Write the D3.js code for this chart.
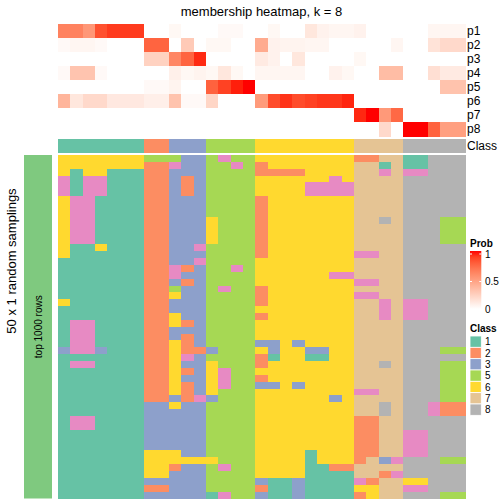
<!DOCTYPE html>
<html>
<head>
<meta charset="utf-8">
<script src="https://cdn.jsdelivr.net/npm/d3@7"></script>
<style>
  html, body { margin: 0; padding: 0; background: #fff; }
  svg { display: block; font-family: "Liberation Sans", Arial, Helvetica, sans-serif; }
</style>
</head>
<body>
<svg id="chart" width="504" height="504"></svg>
<script>
// ---------------- data ----------------
const title = "membership heatmap, k = 8";
const probRows = ["p1", "p2", "p3", "p4", "p5", "p6", "p7", "p8"];
// class of each of the 33 columns
const columnClass = [1,1,1,1,1,1,1, 2,2, 3,3,3, 5,5,5,5, 6,6,6,6,6,6,6,6, 7,7,7,7, 8,8,8,8,8];
// membership probabilities per class row (33 columns each)
const p1 = [0.64,0.64,0.54,0.84,0.91,0.91,0.91, 0,0, 0.04,0,0, 0,0.03,0.03,0, 0,0.04,0,0,0.13,0.07,0.05,0.05, 0.07,0,0,0, 0,0,0.05,0.05,0.05];
const p2 = [0.03,0.05,0.05,0.03,0,0,0, 0.77,0.77, 0,0.28,0, 0.04,0.04,0,0, 0.44,0.07,0.06,0.06,0.05,0.05,0,0, 0,0,0,0.05, 0,0,0.15,0.2,0.2];
const p3 = [0,0,0,0,0,0,0, 0.24,0.24, 0.62,0.77,0.95, 0,0,0,0, 0.11,0.07,0,0.13,0,0,0,0, 0.04,0,0,0, 0,0,0,0,0];
const p4 = [0.03,0.31,0.31,0.03,0,0,0, 0,0, 0.08,0.04,0.06, 0.04,0.13,0.04,0, 0.05,0.05,0.05,0.05,0,0,0.07,0.04, 0,0,0.35,0.35, 0,0,0.17,0.11,0.11];
const p5 = [0,0,0,0,0,0,0, 0.03,0.03, 0.06,0,0, 0.78,0.89,0.97,1, 0,0,0,0,0,0,0,0, 0,0,0,0, 0,0,0,0.32,0.32];
const p6 = [0.39,0.13,0.2,0.2,0.12,0.12,0.12, 0.085,0.085, 0.32,0.03,0.03, 0.22,0,0,0, 0.52,0.86,0.93,0.86,0.89,0.92,0.92,0.96, 0,0,0,0, 0,0,0,0,0];
const p7 = [0,0,0,0,0,0,0, 0,0, 0,0,0, 0,0,0,0, 0,0,0,0,0,0,0,0, 0.955,1,0.53,0.75, 0,0,0,0,0];
const p8 = [0,0,0,0,0,0,0, 0,0, 0,0,0, 0,0,0,0, 0,0,0,0,0,0,0,0, 0,0,0.2,0, 1,1,0.78,0.5,0.5];
// class assigned in each of 50 random samplings (rows) for the 33 columns
const samplings = [
  "6666666"+"55"+"533"+"5455"+"66666666"+"2277"+"11888",
  "6666666"+"22"+"433"+"5545"+"26666666"+"7717"+"11888",
  "6166111"+"22"+"333"+"5555"+"22226666"+"7747"+"44888",
  "4144111"+"22"+"323"+"5555"+"66666646"+"7777"+"88888",
  "4144111"+"22"+"323"+"5555"+"66664444"+"7777"+"88888",
  "4144111"+"22"+"323"+"5555"+"66664444"+"7777"+"88888",
  "6441111"+"22"+"333"+"5555"+"26666666"+"7777"+"88888",
  "6441111"+"22"+"333"+"5555"+"26666666"+"7777"+"88888",
  "6441111"+"22"+"333"+"5555"+"26666666"+"7777"+"88888",
  "6441111"+"22"+"333"+"6555"+"26666666"+"7787"+"88855",
  "6441111"+"22"+"333"+"6555"+"26666666"+"7777"+"88855",
  "6441111"+"22"+"333"+"6555"+"26666666"+"7777"+"88855",
  "6441111"+"22"+"333"+"6555"+"26666666"+"7777"+"88855",
  "6116111"+"22"+"334"+"5555"+"26666666"+"7777"+"88888",
  "6111111"+"22"+"333"+"5555"+"26666666"+"4477"+"88888",
  "1111111"+"22"+"334"+"5555"+"66666666"+"7777"+"88888",
  "1111111"+"22"+"423"+"5545"+"66666666"+"7777"+"88888",
  "1111111"+"22"+"433"+"5555"+"66666644"+"7777"+"88888",
  "1111111"+"22"+"323"+"5555"+"66666666"+"4477"+"88888",
  "1111111"+"22"+"533"+"5455"+"26666666"+"7777"+"88888",
  "1111111"+"22"+"633"+"5555"+"26666666"+"4477"+"88888",
  "6111111"+"22"+"333"+"5555"+"26666666"+"7747"+"44888",
  "1111111"+"22"+"333"+"5555"+"66666666"+"7747"+"44888",
  "1111111"+"22"+"633"+"5555"+"26666666"+"7747"+"44888",
  "1441111"+"22"+"623"+"5555"+"66666666"+"7777"+"88888",
  "1441111"+"22"+"333"+"5555"+"66666666"+"7777"+"88888",
  "1441111"+"22"+"323"+"5555"+"66666666"+"7777"+"88888",
  "1441111"+"22"+"623"+"5555"+"33636666"+"7777"+"88888",
  "3443111"+"22"+"622"+"3555"+"63663366"+"7777"+"88855",
  "1111111"+"22"+"643"+"5555"+"21661166"+"7777"+"88888",
  "1441111"+"22"+"633"+"6555"+"26666666"+"7787"+"88855",
  "1111111"+"22"+"623"+"6455"+"66666666"+"7777"+"88855",
  "1111111"+"22"+"633"+"6455"+"26666666"+"7777"+"88855",
  "1111111"+"22"+"623"+"6455"+"33636666"+"7777"+"88855",
  "1111111"+"22"+"623"+"6555"+"66666666"+"4477"+"88855",
  "1111111"+"22"+"324"+"3555"+"66666636"+"7777"+"88855",
  "1111111"+"33"+"633"+"5555"+"66666666"+"7787"+"88422",
  "1111111"+"33"+"333"+"5555"+"66666666"+"7787"+"88422",
  "1441111"+"33"+"333"+"5555"+"66666666"+"2277"+"88888",
  "1441111"+"33"+"333"+"5555"+"66666666"+"2277"+"88888",
  "1111111"+"33"+"333"+"5555"+"66666666"+"2277"+"44888",
  "1111111"+"33"+"333"+"5555"+"66666666"+"2277"+"44888",
  "1111111"+"33"+"333"+"5555"+"66666666"+"2277"+"44888",
  "1111111"+"66"+"633"+"5555"+"66661666"+"2277"+"44888",
  "1111111"+"66"+"666"+"6555"+"66661666"+"2734"+"88855",
  "1111111"+"66"+"233"+"5455"+"66661122"+"7777"+"88888",
  "1111111"+"66"+"333"+"5555"+"66661111"+"7724"+"88888",
  "1111111"+"33"+"333"+"5555"+"31131111"+"4277"+"66888",
  "1111111"+"22"+"333"+"5555"+"21131111"+"6677"+"44888",
  "1111111"+"33"+"333"+"1455"+"31131111"+"2677"+"88855"
];
const legendClasses = ["1","2","3","5","6","7","8"];
const probTicks = [0, 0.5, 1];
const rowTitle = "50 x 1 random samplings";
const annoText = "top 1000 rows";

// ---------------- drawing ----------------
const probData = [p1,p2,p3,p4,p5,p6,p7,p8];
const nCol = columnClass.length;
const svg = d3.select("#chart");

const classColor = d3.scaleOrdinal()
  .domain(["1","2","3","4","5","6","7","8"])
  .range(d3.schemeSet2);
const probColor = d3.scaleLinear().domain([0,1]).range(["#ffffff","#ff0000"]).interpolate(d3.interpolateLab);

const x = d3.scaleBand().domain(d3.range(nCol)).range([58, 465]);
const yTop = d3.scaleBand().domain(probRows).range([24, 136]);
const yClass = d3.scaleBand().domain(["Class"]).range([138.5, 152.5]);
const yBot = d3.scaleBand().domain(d3.range(samplings.length)).range([155, 498.5]);

// title
svg.append("text").attr("x", 261.5).attr("y", 16).attr("text-anchor","middle")
  .attr("font-size", 13).attr("fill","#000").text(title);

// membership heatmap
const topG = svg.append("g").attr("shape-rendering","crispEdges");
probRows.forEach((r, i) => {
  topG.selectAll(null).data(probData[i]).enter().append("rect")
    .attr("x", (d, j) => x(j)).attr("y", yTop(r))
    .attr("width", x.bandwidth() + 0.5).attr("height", yTop.bandwidth() + 0.5)
    .attr("fill", d => probColor(d));
});
// class annotation
topG.selectAll(null).data(columnClass).enter().append("rect")
  .attr("x", (d, j) => x(j)).attr("y", yClass("Class"))
  .attr("width", x.bandwidth() + 0.5).attr("height", yClass.bandwidth())
  .attr("fill", d => classColor(String(d)));

// row labels
const rowLabG = svg.append("g").attr("font-size", 12).attr("fill","#000");
probRows.concat(["Class"]).forEach(r => {
  const yy = r === "Class" ? yClass(r) + yClass.bandwidth()/2 : yTop(r) + yTop.bandwidth()/2;
  rowLabG.append("text").attr("x", 467).attr("y", yy).attr("dy","0.36em").text(r);
});

// sampling heatmap
const botG = svg.append("g").attr("shape-rendering","crispEdges");
samplings.forEach((s, i) => {
  botG.selectAll(null).data(s.split("")).enter().append("rect")
    .attr("x", (d, j) => x(j)).attr("y", yBot(i))
    .attr("width", x.bandwidth() + 0.5).attr("height", yBot.bandwidth() + 0.5)
    .attr("fill", d => classColor(d));
});

// left annotation bar
svg.append("rect").attr("x", 24).attr("y", yBot.range()[0]).attr("width", 28)
  .attr("height", yBot.range()[1] - yBot.range()[0]).attr("fill", "#7fc97f");
svg.append("text").attr("transform", `translate(38.5,${(yBot.range()[0]+yBot.range()[1])/2}) rotate(-90)`)
  .attr("text-anchor","middle").attr("dy","0.35em").attr("font-size", 10).attr("fill","#000").text(annoText);
svg.append("text").attr("transform", `translate(11,261) rotate(-90)`)
  .attr("text-anchor","middle").attr("dy","0.35em").attr("font-size", 13).attr("fill","#000").text(rowTitle);

// ---------- legends ----------
const lg = svg.append("g");
lg.append("text").attr("x", 470).attr("y", 247).attr("font-size", 10).attr("font-weight","bold").text("Prob");
const ly = d3.scaleLinear().domain([0,1]).range([309, 254]);
const defs = svg.append("defs");
const grad = defs.append("linearGradient").attr("id","probGrad").attr("x1",0).attr("y1",1).attr("x2",0).attr("y2",0);
d3.range(0, 1.0001, 0.1).forEach(t => grad.append("stop").attr("offset", t).attr("stop-color", probColor(t)));
lg.append("rect").attr("x", 470).attr("y", 251).attr("width", 11.3).attr("height", 58).attr("fill","url(#probGrad)");
probTicks.forEach(t => {
  lg.append("line").attr("x1",470).attr("x2",472).attr("y1",ly(t)).attr("y2",ly(t)).attr("stroke","#fff").attr("stroke-width",1);
  lg.append("line").attr("x1",479.3).attr("x2",481.3).attr("y1",ly(t)).attr("y2",ly(t)).attr("stroke","#fff").attr("stroke-width",1);
  lg.append("text").attr("x", 485).attr("y", ly(t)).attr("dy","0.36em").attr("font-size",10).text(t === 0.5 ? "0.5" : String(t));
});

lg.append("text").attr("x", 470).attr("y", 332).attr("font-size", 10).attr("font-weight","bold").text("Class");
const ky = d3.scaleBand().domain(legendClasses).range([336, 336 + 11.33*legendClasses.length]);
legendClasses.forEach(c => {
  lg.append("rect").attr("x", 470).attr("y", ky(c)).attr("width", 11.3).attr("height", ky.bandwidth())
    .attr("fill", classColor(c)).attr("stroke","#fff").attr("stroke-width",0.8);
  lg.append("text").attr("x", 485).attr("y", ky(c) + ky.bandwidth()/2).attr("dy","0.36em").attr("font-size",10).text(c);
});
</script>
</body>
</html>
